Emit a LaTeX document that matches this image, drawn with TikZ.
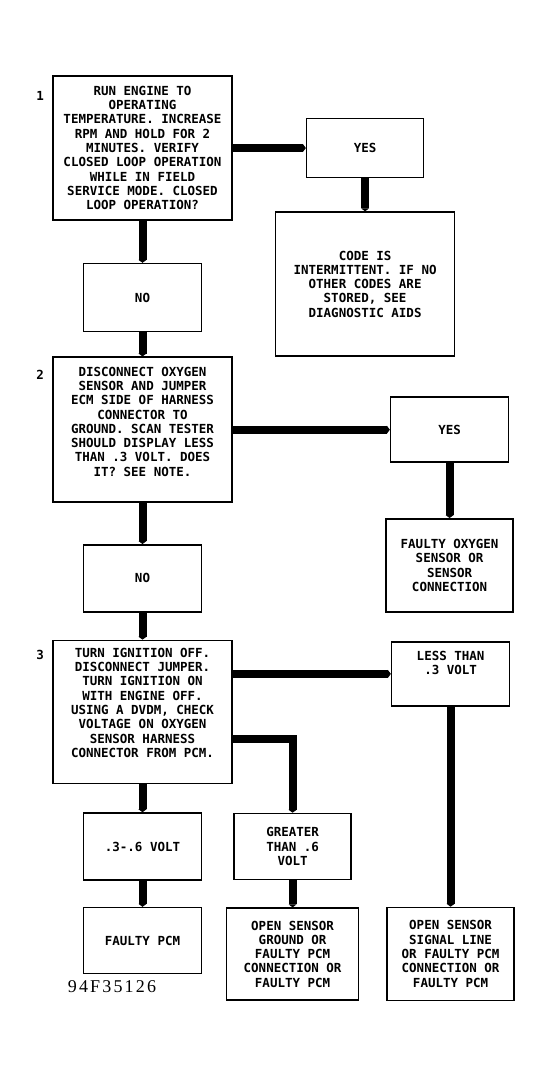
\documentclass[tikz,border=0pt]{standalone}
\usepackage{fontspec}
\setmainfont{Liberation Serif}
\setmonofont{DejaVu Sans Mono}
\usetikzlibrary{arrows.meta,positioning}

\begin{document}
\begin{tikzpicture}
%defines
  [x=1pt,y=1pt,
box/.style={rectangle,draw=black,line width=1.6pt,inner sep=2pt,align=center,
font=\ttfamily\bfseries\fontsize{12.5}{14.3}\selectfont},
big/.style={box,minimum width=179pt,minimum height=144pt},
small/.style={box,minimum width=118pt,minimum height=66pt},
result/.style={box,minimum width=127pt,minimum height=93pt},
stepno/.style={font=\ttfamily\bfseries\fontsize{12.5}{14}\selectfont,inner sep=0pt},
flow/.style={line width=8pt,line join=miter,-{Triangle[length=3pt,width=8pt]}}]
\useasboundingbox (0,0) rectangle (556,-1068);
% step 1
\node[big] (q1) at (142.5,-148) {RUN ENGINE TO\\OPERATING\\TEMPERATURE. INCREASE\\RPM AND HOLD FOR 2\\MINUTES. VERIFY\\CLOSED LOOP OPERATION\\WHILE IN FIELD\\SERVICE MODE. CLOSED\\LOOP OPERATION?};
\node[stepno] (n1) at ([xshift=-12pt,yshift=-21pt]q1.north west) {1};
\node[small,minimum width=117pt,minimum height=59pt] (yes1) [right=73pt of q1] {YES};
\node[big] (code) [below=33pt of yes1] {CODE IS\\INTERMITTENT. IF NO\\OTHER CODES ARE\\STORED, SEE\\DIAGNOSTIC AIDS};
\node[small,minimum height=68pt] (no1) [below=42pt of q1] {NO};
% step 2
\node[big,minimum height=145pt] (q2) [below=24pt of no1] {DISCONNECT OXYGEN\\SENSOR AND JUMPER\\ECM SIDE OF HARNESS\\CONNECTOR TO\\GROUND. SCAN TESTER\\SHOULD DISPLAY LESS\\THAN .3 VOLT. DOES\\IT? SEE NOTE.\\[2pt]};
\node[stepno] (n2) at ([xshift=-12pt,yshift=-18pt]q2.north west) {2};
\node[small,minimum height=65pt] (yes2) [right=157pt of q2] {YES};
\node[result] (o2) [below=55pt of yes2] {FAULTY OXYGEN\\SENSOR OR\\SENSOR\\CONNECTION};
\node[small,minimum height=67pt] (no2) [below=41pt of q2] {NO};
% step 3
\node[big,minimum height=143pt] (q3) [below=27pt of no2] {TURN IGNITION OFF.\\DISCONNECT JUMPER.\\TURN IGNITION ON\\WITH ENGINE OFF.\\USING A DVDM, CHECK\\VOLTAGE ON OXYGEN\\SENSOR HARNESS\\CONNECTOR FROM PCM.\\[4pt]};
\node[stepno] (n3) at ([xshift=-12pt,yshift=-15pt]q3.north west) {3};
\node[small,minimum height=64pt] (less) [right=158pt of q3,yshift=38pt] {LESS THAN\\.3 VOLT\\[8pt]};
\node[small,minimum height=67pt] (mid) [below=28pt of q3] {.3-.6 VOLT};
\node[small] (pcm) [below=26pt of mid] {FAULTY PCM};
\node[small,minimum width=117pt] (greater) [right=31pt of mid] {GREATER\\THAN .6\\VOLT};
\node[result,minimum width=132pt,minimum height=92pt] (ground) [below=27pt of greater] {OPEN SENSOR\\GROUND OR\\FAULTY PCM\\CONNECTION OR\\FAULTY PCM};
\node[result] (signal) [below=200pt of less] {OPEN SENSOR\\SIGNAL LINE\\OR FAULTY PCM\\CONNECTION OR\\FAULTY PCM};
\node[font=\fontsize{18}{18}\selectfont\addfontfeature{LetterSpace=12}] (tag) at (112,-987) {94F35126};
% connectors
\draw[flow] (q1) -- (yes1);
\draw[flow] (yes1) -- (code);
\draw[flow] (q1) -- (no1);
\draw[flow] (no1) -- (q2);
\draw[flow] (q2) -- (yes2);
\draw[flow] (yes2) -- (o2);
\draw[flow] (q2) -- (no2);
\draw[flow] (no2) -- (q3);
\draw[flow] (q3.east |- less) -- (less);
\draw[flow] (less) -- (signal);
\draw[flow] ([yshift=-27pt]q3.east) -| (greater);
\draw[flow] (greater) -- (ground);
\draw[flow] (q3) -- (mid);
\draw[flow] (mid) -- (pcm);
\end{tikzpicture}
\end{document}
